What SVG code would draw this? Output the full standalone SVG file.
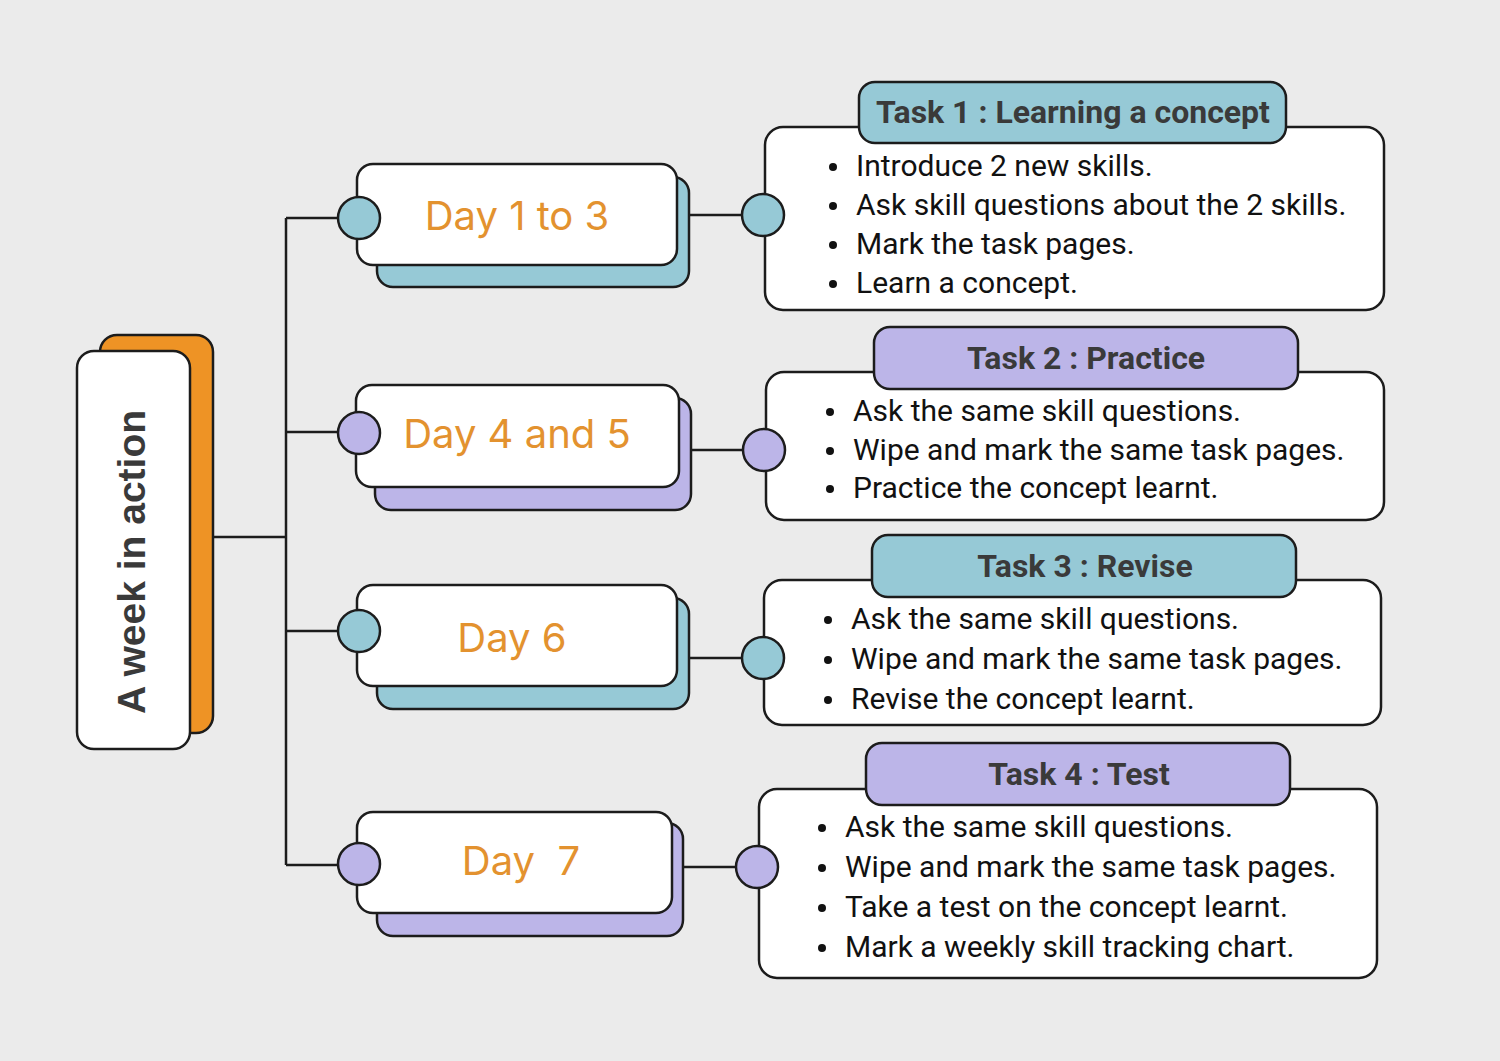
<svg xmlns="http://www.w3.org/2000/svg" width="1500" height="1061" viewBox="0 0 1500 1061">
<style>
.bg{fill:#ebebeb}
.s{stroke:#1c1c1c;stroke-width:2.5}
.w{fill:#ffffff}
.teal{fill:#96c9d6}
.purp{fill:#bcb5e8}
.org{fill:#ee9325}
.line{fill:none;stroke:#1c1c1c;stroke-width:2.5}
.day{font-family:Inter,"Liberation Sans",sans-serif;font-size:40px;fill:#e3922f;text-anchor:middle}
.hd{font-family:Roboto,"Liberation Sans",sans-serif;font-weight:bold;font-size:32px;fill:#3a3a3a;text-anchor:middle}
.bl{font-family:Roboto,"Liberation Sans",sans-serif;font-size:30px;fill:#111111}
.dot{fill:#111111}
.root{font-family:"Liberation Sans",Arial,sans-serif;font-weight:bold;font-size:39px;fill:#3a3a3a;text-anchor:middle}
</style>
<defs><circle id="b" class="dot" r="4"/></defs>
<rect class="bg" x="0" y="0" width="1500" height="1061"/>
<g id="connectors">
<path class="line" d="M213 537 H286 M286 218 V865 M286 218 H340 M286 432 H340 M286 631 H340 M286 865 H340"/>
<path class="line" d="M689 215 H745 M691 450 H745 M689 658 H745 M683 867 H739"/>
</g>
<g id="root">
<rect class="org s" x="100" y="335" width="113" height="398" rx="17"/>
<rect class="w s" x="77" y="351" width="113" height="398" rx="17"/>
<text class="root" transform="translate(145 562) rotate(-90)">A week in action</text>
</g>
<g id="day1">
<rect class="teal s" x="377" y="177" width="312" height="110" rx="16"/>
<rect class="w s" x="357" y="164" width="320" height="101" rx="16"/>
<circle class="teal s" cx="359" cy="218" r="21"/>
<text class="day" x="517" y="230">Day 1 to 3</text>
</g>
<g id="day2">
<rect class="purp s" x="375" y="398" width="316" height="112" rx="16"/>
<rect class="w s" x="356" y="385" width="323" height="102" rx="16"/>
<circle class="purp s" cx="359" cy="433" r="21"/>
<text class="day" x="517" y="448">Day 4 and 5</text>
</g>
<g id="day3">
<rect class="teal s" x="377" y="598" width="312" height="111" rx="16"/>
<rect class="w s" x="357" y="585" width="320" height="101" rx="16"/>
<circle class="teal s" cx="359" cy="631" r="21"/>
<text class="day" x="512" y="652">Day 6</text>
</g>
<g id="day4">
<rect class="purp s" x="377" y="823" width="306" height="113" rx="16"/>
<rect class="w s" x="357" y="812" width="315" height="101" rx="16"/>
<circle class="purp s" cx="359" cy="864" r="21"/>
<text class="day" x="521" y="875" xml:space="preserve">Day  7</text>
</g>
<g id="task1">
<rect class="w s" x="765" y="127" width="619" height="183" rx="18"/>
<rect class="teal s" x="859" y="82" width="427" height="61" rx="16"/>
<circle class="teal s" cx="763" cy="215" r="21"/>
<text class="hd" x="1073" y="123">Task 1 : Learning a concept</text>
<use href="#b" x="833" y="167"/><use href="#b" x="833" y="206"/><use href="#b" x="833" y="245"/><use href="#b" x="833" y="284"/>
<text class="bl"><tspan x="856" y="176">Introduce 2 new skills.</tspan><tspan x="856" y="215">Ask skill questions about the 2 skills.</tspan><tspan x="856" y="254">Mark the task pages.</tspan><tspan x="856" y="293">Learn a concept.</tspan></text>
</g>
<g id="task2">
<rect class="w s" x="766" y="372" width="618" height="148" rx="18"/>
<rect class="purp s" x="874" y="327" width="424" height="62" rx="16"/>
<circle class="purp s" cx="764" cy="450" r="21"/>
<text class="hd" x="1086" y="369">Task 2 : Practice</text>
<use href="#b" x="830" y="412"/><use href="#b" x="830" y="451"/><use href="#b" x="830" y="489"/>
<text class="bl"><tspan x="853" y="421">Ask the same skill questions.</tspan><tspan x="853" y="460">Wipe and mark the same task pages.</tspan><tspan x="853" y="498">Practice the concept learnt.</tspan></text>
</g>
<g id="task3">
<rect class="w s" x="764" y="580" width="617" height="145" rx="18"/>
<rect class="teal s" x="872" y="535" width="424" height="62" rx="16"/>
<circle class="teal s" cx="763" cy="658" r="21"/>
<text class="hd" x="1085" y="577">Task 3 : Revise</text>
<use href="#b" x="828" y="620"/><use href="#b" x="828" y="660"/><use href="#b" x="828" y="700"/>
<text class="bl"><tspan x="851" y="629">Ask the same skill questions.</tspan><tspan x="851" y="669">Wipe and mark the same task pages.</tspan><tspan x="851" y="709">Revise the concept learnt.</tspan></text>
</g>
<g id="task4">
<rect class="w s" x="759" y="789" width="618" height="189" rx="18"/>
<rect class="purp s" x="866" y="743" width="424" height="62" rx="16"/>
<circle class="purp s" cx="757" cy="867" r="21"/>
<text class="hd" x="1079" y="785">Task 4 : Test</text>
<use href="#b" x="822" y="828"/><use href="#b" x="822" y="868"/><use href="#b" x="822" y="908"/><use href="#b" x="822" y="948"/>
<text class="bl"><tspan x="845" y="837">Ask the same skill questions.</tspan><tspan x="845" y="877">Wipe and mark the same task pages.</tspan><tspan x="845" y="917">Take a test on the concept learnt.</tspan><tspan x="845" y="957">Mark a weekly skill tracking chart.</tspan></text>
</g>
</svg>
